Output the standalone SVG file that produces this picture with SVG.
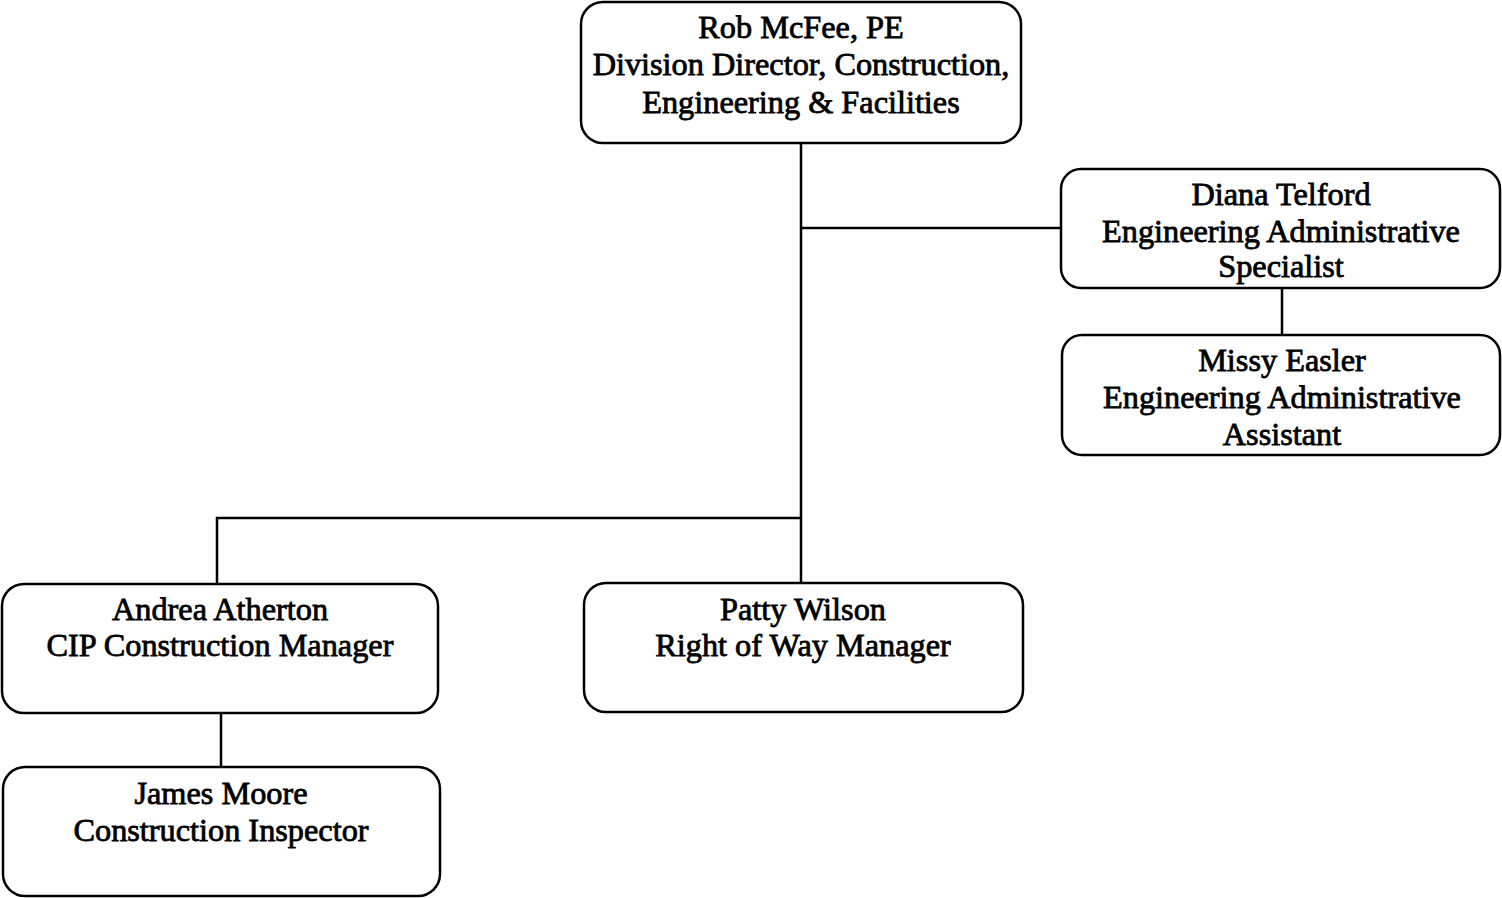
<svg xmlns="http://www.w3.org/2000/svg" width="1502" height="898" viewBox="0 0 1502 898">
  <style>
    .box { fill: #ffffff; stroke: #000000; stroke-width: 2.5; }
    .lbl { font-family: "Liberation Serif", "Times New Roman", serif; font-size: 32.3px; fill: #000000; stroke: #000000; stroke-width: 0.8; text-anchor: middle; }
    .conn { stroke: #000000; stroke-width: 2.5; fill: none; }
  </style>
  <rect width="1502" height="898" fill="#ffffff"/>

  <g id="connectors">
    <line class="conn" x1="801" y1="143" x2="801" y2="583"/>
    <line class="conn" x1="801" y1="228" x2="1061" y2="228"/>
    <line class="conn" x1="1282" y1="288" x2="1282" y2="335"/>
    <polyline class="conn" points="801,518 217,518 217,584"/>
    <line class="conn" x1="221" y1="713" x2="221" y2="767"/>
  </g>

  <g id="rob-mcfee">
    <rect class="box" x="581" y="2" width="440" height="141" rx="22"/>
    <text class="lbl" x="801" y="38">Rob McFee, PE</text>
    <text class="lbl" x="801" y="75">Division Director, Construction,</text>
    <text class="lbl" x="801" y="113">Engineering &amp; Facilities</text>
  </g>

  <g id="diana-telford">
    <rect class="box" x="1061" y="169" width="439" height="119" rx="20"/>
    <text class="lbl" x="1281" y="205">Diana Telford</text>
    <text class="lbl" x="1281" y="242">Engineering Administrative</text>
    <text class="lbl" x="1281" y="277">Specialist</text>
  </g>

  <g id="missy-easler">
    <rect class="box" x="1062" y="335" width="438" height="120" rx="20"/>
    <text class="lbl" x="1282" y="371">Missy Easler</text>
    <text class="lbl" x="1282" y="408">Engineering Administrative</text>
    <text class="lbl" x="1282" y="445">Assistant</text>
  </g>

  <g id="andrea-atherton">
    <rect class="box" x="2" y="584" width="436" height="129" rx="22"/>
    <text class="lbl" x="220" y="620">Andrea Atherton</text>
    <text class="lbl" x="220" y="656">CIP Construction Manager</text>
  </g>

  <g id="patty-wilson">
    <rect class="box" x="584" y="583" width="439" height="129" rx="22"/>
    <text class="lbl" x="803" y="620">Patty Wilson</text>
    <text class="lbl" x="803" y="656">Right of Way Manager</text>
  </g>

  <g id="james-moore">
    <rect class="box" x="3" y="767" width="437" height="129" rx="22"/>
    <text class="lbl" x="221" y="804">James Moore</text>
    <text class="lbl" x="221" y="841">Construction Inspector</text>
  </g>
</svg>
